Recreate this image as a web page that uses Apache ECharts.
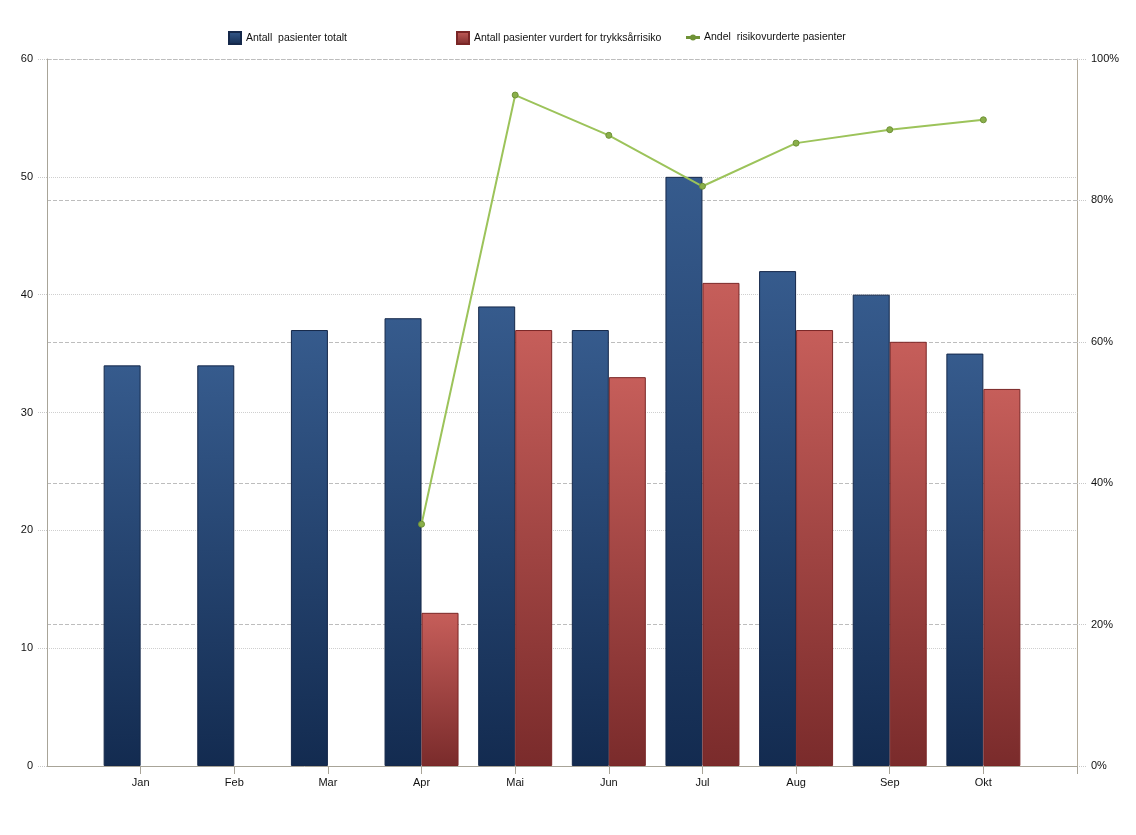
<!DOCTYPE html>
<html>
<head>
<meta charset="utf-8">
<script src="https://cdn.jsdelivr.net/npm/echarts@6/dist/echarts.min.js"></script>
<style>
html,body{margin:0;padding:0;background:#fff;}
#chart{width:1136px;height:835px;}
</style>
</head>
<body>
<div id="chart"></div>
<script>
var months = ['Jan','Feb','Mar','Apr','Mai','Jun','Jul','Aug','Sep','Okt'];
var totalPatients = [34,34,37,38,39,37,50,42,40,35];
var assessedPatients = [null,null,null,13,37,33,41,37,36,32];
var sharePercent = [null,null,null,34.2,94.9,89.2,82.0,88.1,90.0,91.4];
var leftTicks = [0,10,20,30,40,50,60];
var rightTicks = [0,20,40,60,80,100];

var seriesNames = ['Antall  pasienter totalt','Antall pasienter vurdert for trykksårrisiko','Andel  risikovurderte pasienter'];

// pad one empty slot on each side of the category axis
function pad(a){ return [null].concat(a, [null]); }
var cats = pad(months).map(function(v){ return v === null ? '' : v; });

var font = 'Liberation Sans';
var chart = echarts.init(document.getElementById('chart'), null, {renderer:'canvas'});

function legend(name, left, icon, w, h, top, extra){
  var l = {
    data:[{name:name, icon:icon}], left:left, top:top, padding:0, itemWidth:w, itemHeight:h, itemGap:4,
    textStyle:{fontFamily:font, fontSize:10.5, color:'#111'}
  };
  if (extra) l.itemStyle = extra;
  return l;
}

chart.setOption({
  animation:false,
  backgroundColor:'#fff',
  legend:[
    legend(seriesNames[0],228,'rect',12,12,31),
    legend(seriesNames[1],456,'rect',12,12,31),
    legend(seriesNames[2],686,'path://M0 4.4 H12 V5.6 H0 Z M8 5 A2 2 0 1 1 4 5 A2 2 0 1 1 8 5 Z',12,5,32,{color:'#8fb652'})
  ],
  grid:{left:47, right:59, top:59, bottom:69, containLabel:false},
  xAxis:{
    type:'category', data:cats, boundaryGap:false,
    axisLine:{lineStyle:{color:'#a8a498', width:1}},
    axisTick:{show:true, length:8, lineStyle:{color:'#a8a498'},
      interval:function(i){ return i>=1 && i<=months.length+1; }},
    axisLabel:{interval:0, margin:11, fontFamily:font, fontSize:11, color:'#111'},
    splitLine:{show:false}
  },
  yAxis:[{
    type:'value', min:leftTicks[0], max:leftTicks[leftTicks.length-1], interval:10,
    axisLine:{show:true, lineStyle:{color:'#a8a498'}},
    axisTick:{show:true, length:10, lineStyle:{color:'#c8c8c8', type:'dotted'}},
    axisLabel:{margin:14, fontFamily:font, fontSize:11, color:'#111'},
    splitLine:{show:true, lineStyle:{color:'#cfcfcf', type:'dotted'}}
  },{
    type:'value', min:rightTicks[0], max:rightTicks[rightTicks.length-1], interval:20,
    position:'right',
    axisLine:{show:true, lineStyle:{color:'#b3ab9a'}},
    axisTick:{show:true, length:10, lineStyle:{color:'#c8c8c8', type:'dotted'}},
    axisLabel:{margin:14, fontFamily:font, fontSize:11, color:'#111', formatter:'{value}%'},
    splitLine:{show:true, lineStyle:{color:'#bdbdbd', type:'dashed'}}
  }],
  series:[{
    name:seriesNames[0], type:'bar', data:pad(totalPatients), barWidth:37, barGap:'0%',
    itemStyle:{
      color:new echarts.graphic.LinearGradient(0,0,0,1,[{offset:0,color:'#365b8d'},{offset:1,color:'#132b50'}]),
      borderColor:'#15284a', borderWidth:1
    }
  },{
    name:seriesNames[1], type:'bar', data:pad(assessedPatients), barWidth:37, barGap:'0%',
    itemStyle:{
      color:new echarts.graphic.LinearGradient(0,0,0,1,[{offset:0,color:'#c65e5a'},{offset:1,color:'#7a2b2b'}]),
      borderColor:'#7a2626', borderWidth:1
    }
  },{
    name:seriesNames[2], type:'line', yAxisIndex:1, data:pad(sharePercent),
    symbol:'circle', symbolSize:6, connectNulls:false,
    lineStyle:{color:'#9cc35a', width:2},
    itemStyle:{color:'#8aaf4a', borderColor:'#6f9236', borderWidth:1}
  }]
});
</script>
</body>
</html>
